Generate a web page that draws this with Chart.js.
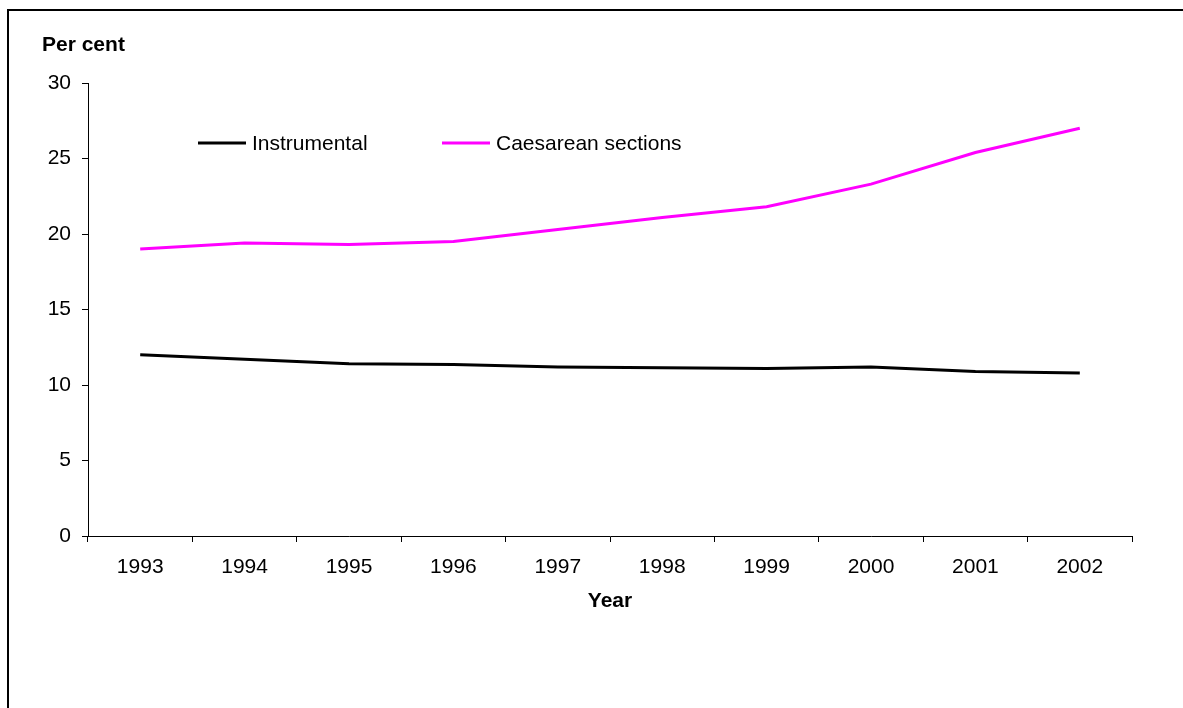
<!DOCTYPE html>
<html>
<head>
<meta charset="utf-8">
<style>
  html, body { margin: 0; padding: 0; background: #fff; overflow: hidden; }
  #wrap { position: relative; width: 1183px; height: 708px; }
  #frame { position: absolute; left: 7px; top: 9px; width: 1300px; height: 800px; border: 2px solid #000; box-sizing: border-box; pointer-events: none; }
  canvas { position: absolute; left: 0; top: 0; }
</style>
<script src="https://cdn.jsdelivr.net/npm/chart.js@4"></script>
</head>
<body>
<div id="wrap">
  <canvas id="chart" width="1183" height="708"></canvas>
  <div id="frame"></div>
</div>
<script>
// Birth delivery methods, per cent of all deliveries
const years = ['1993', '1994', '1995', '1996', '1997', '1998', '1999', '2000', '2001', '2002'];
const instrumental = [12.0, 11.7, 11.4, 11.35, 11.2, 11.15, 11.1, 11.2, 10.9, 10.8];
const caesarean = [19.0, 19.4, 19.3, 19.5, 20.3, 21.1, 21.8, 23.3, 25.4, 27.0];
const yTicks = [0, 5, 10, 15, 20, 25, 30];

const FONT = '"Liberation Sans", Arial, sans-serif';
const SIZE = 21;

// Axis titles and the in-plot legend
const annotate = {
  id: 'annotate',
  afterDraw(chart) {
    const ctx = chart.ctx;
    const area = chart.chartArea;
    ctx.save();
    ctx.fillStyle = '#000';
    ctx.font = 'bold ' + SIZE + 'px ' + FONT;
    ctx.textBaseline = 'middle';
    ctx.textAlign = 'left';
    ctx.fillText('Per cent', 42, 45);
    ctx.textAlign = 'center';
    ctx.fillText('Year', (area.left + area.right) / 2, 601);

    ctx.font = SIZE + 'px ' + FONT;
    ctx.textAlign = 'left';
    const items = [{ x: 198 }, { x: 442 }];
    chart.data.datasets.forEach((ds, i) => {
      const x = items[i].x, y = 143;
      ctx.strokeStyle = ds.borderColor;
      ctx.lineWidth = 3;
      ctx.beginPath();
      ctx.moveTo(x, y);
      ctx.lineTo(x + 48, y);
      ctx.stroke();
      ctx.fillStyle = '#000';
      ctx.fillText(ds.label, x + 54, y + 1);
    });
    ctx.restore();
  }
};

new Chart(document.getElementById('chart'), {
  type: 'line',
  data: {
    labels: years,
    datasets: [
      { label: 'Instrumental', data: instrumental, borderColor: '#000000', borderWidth: 3, pointRadius: 0, tension: 0, fill: false },
      { label: 'Caesarean sections', data: caesarean, borderColor: '#FF00FF', borderWidth: 3, pointRadius: 0, tension: 0, fill: false }
    ]
  },
  options: {
    responsive: false,
    animation: false,
    layout: { padding: { top: 83, right: 51, left: 0, bottom: 0 } },
    plugins: { legend: { display: false }, tooltip: { enabled: false }, title: { display: false } },
    scales: {
      x: {
        type: 'category',
        offset: true,
        grid: { display: true, offset: true, drawOnChartArea: false, drawTicks: true, tickLength: 6, color: '#000', lineWidth: 1 },
        border: { display: true, color: '#000', width: 1 },
        ticks: { color: '#000', font: { family: FONT, size: SIZE }, padding: 13, maxRotation: 0, autoSkip: false },
        afterFit(scale) { scale.height = 708 - 536; }
      },
      y: {
        min: 0,
        max: 30,
        afterBuildTicks(scale) { scale.ticks = yTicks.map(v => ({ value: v })); },
        grid: { display: true, drawOnChartArea: false, drawTicks: true, tickLength: 6, color: '#000', lineWidth: 1 },
        border: { display: true, color: '#000', width: 1 },
        ticks: { color: '#000', font: { family: FONT, size: SIZE }, padding: 11 },
        afterFit(scale) { scale.width = 88; }
      }
    }
  },
  plugins: [annotate]
});
</script>
</body>
</html>
